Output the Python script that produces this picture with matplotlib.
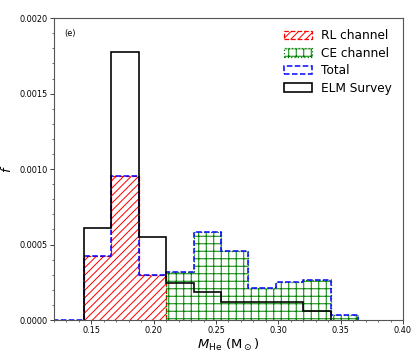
import numpy as np
import matplotlib
matplotlib.use("Agg")
import matplotlib.pyplot as plt
from matplotlib.ticker import MultipleLocator, FormatStrFormatter
from matplotlib.patches import Patch

# Data
bin_edges = [0.100, 0.122, 0.144, 0.166, 0.188, 0.210, 0.232, 0.254,
             0.276, 0.298, 0.320, 0.342, 0.364]
rl_channel = [0, 0, 0.000424, 0.000954, 0.000296, 0, 0, 0, 0, 0, 0, 0]
ce_channel = [0, 0, 0, 0, 0, 0.000320, 0.000581, 0.000457, 0.000210,
              0.000254, 0.000265, 0.000033]
elm_survey = [0, 0, 0.000611, 0.001773, 0.000548, 0.000245, 0.000183,
              0.000122, 0.000122, 0.000122, 0.000061, 0]

edges = np.array(bin_edges)
rl = np.array(rl_channel)
ce = np.array(ce_channel)
total = rl + ce
elm = np.array(elm_survey)
centers = 0.5 * (edges[:-1] + edges[1:])

plt.rcParams['hatch.linewidth'] = 0.8
DPI = 90
fig = plt.figure(figsize=(415 / DPI, 356 / DPI), dpi=DPI)
ax = fig.add_axes([0.130, 0.101, 0.841, 0.848])

# RL channel (bins 2..4)
s = slice(2, 5)
ax.hist(centers[s], bins=edges[2:6], weights=rl[s], histtype='step',
        hatch='////', edgecolor='red', linestyle='--', linewidth=1.0,
        fill=False)
# CE channel (bins 5..11)
s = slice(5, 12)
ax.hist(centers[s], bins=edges[5:13], weights=ce[s], histtype='step',
        hatch='++', edgecolor='green', linestyle=':', linewidth=1.0,
        fill=False)
# Total
ax.hist(centers, bins=edges, weights=total, histtype='step',
        edgecolor='blue', linestyle='--', linewidth=1.2)
# ELM survey (bins 2..10)
s = slice(2, 11)
ax.hist(centers[s], bins=edges[2:12], weights=elm[s], histtype='step',
        edgecolor='black', linewidth=1.3)

ax.set_xlim(0.12, 0.40)
ax.set_ylim(0, 0.0020)
ax.xaxis.set_major_locator(MultipleLocator(0.05))
ax.xaxis.set_minor_locator(MultipleLocator(0.01))
ax.yaxis.set_major_locator(MultipleLocator(0.0005))
ax.yaxis.set_minor_locator(MultipleLocator(0.0001))
ax.xaxis.set_major_formatter(FormatStrFormatter('%.2f'))
ax.yaxis.set_major_formatter(FormatStrFormatter('%.4f'))
ax.tick_params(which='major', length=3, width=0.8, labelsize=6.5,
               color='#444444', pad=2)
ax.tick_params(which='minor', length=1.5, width=0.6, color='#444444')
for sp in ax.spines.values():
    sp.set_color('#555555')
    sp.set_linewidth(0.9)

ax.set_xlabel(r'$M_{\rm He}$ (M$_\odot$)', fontsize=10.5, labelpad=1)
ax.set_ylabel(r'$f$', fontsize=10.5)
ax.yaxis.set_label_coords(-0.115, 0.5)
ax.text(0.03, 0.95, '(e)', transform=ax.transAxes, fontsize=6.5,
        ha='left', va='center')

handles = [
    Patch(facecolor='none', edgecolor='red', hatch='////', linestyle='--',
          linewidth=1.0),
    Patch(facecolor='none', edgecolor='green', hatch='++', linestyle=':',
          linewidth=1.0),
    Patch(facecolor='none', edgecolor='blue', linestyle='--', linewidth=1.2),
    Patch(facecolor='none', edgecolor='black', linewidth=1.3),
]
labels = ['RL channel', 'CE channel', 'Total', 'ELM Survey']
ax.legend(handles, labels, loc='upper right', frameon=False, fontsize=9.7,
          handlelength=2.3, handleheight=0.7, labelspacing=0.38,
          borderaxespad=0.5)

fig.savefig('out.png', dpi=DPI)
